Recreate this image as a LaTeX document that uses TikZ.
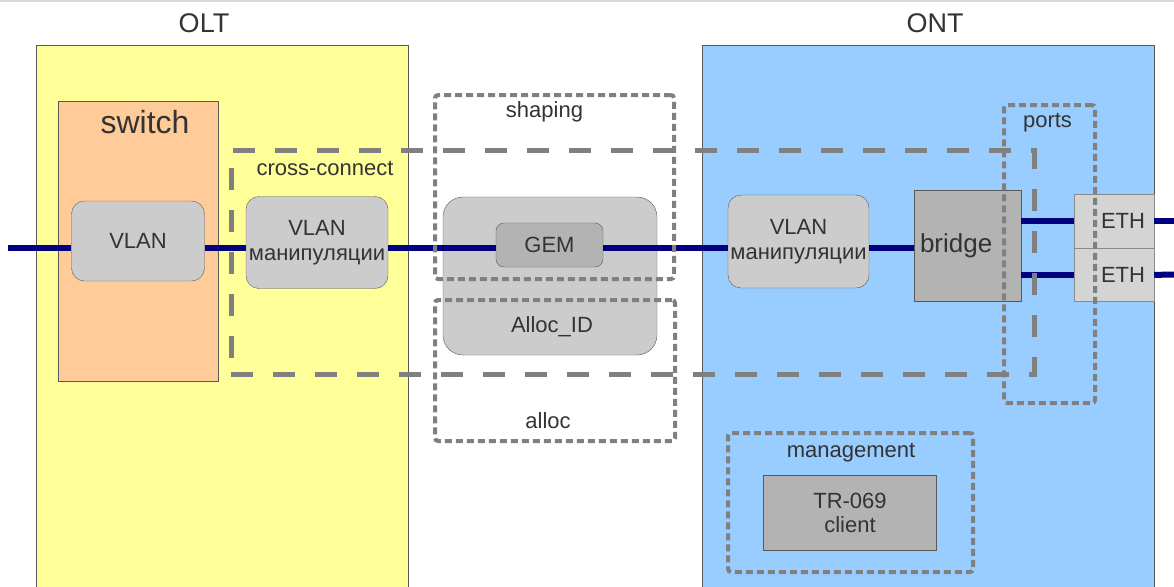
\documentclass[tikz,border=0pt]{standalone}
\usepackage{fontspec}
\setmainfont{Liberation Sans}
\usetikzlibrary{positioning}
\definecolor{oltyellow}{HTML}{FFFF99}
\definecolor{ontblue}{HTML}{99CCFF}
\definecolor{switchorange}{HTML}{FFCC99}
\definecolor{unitgray}{HTML}{CCCCCC}
\definecolor{blockgray}{HTML}{B3B3B3}
\definecolor{portgray}{HTML}{D4D4D4}
\definecolor{edgegray}{HTML}{595959}
\definecolor{txtgray}{HTML}{333333}
\definecolor{linkblue}{HTML}{000080}

\begin{document}
\begin{tikzpicture}[x=1pt, y=-1pt,
    every node/.style={text=txtgray, font=\fontsize{22}{25}\selectfont},
    unitbox/.style={draw=edgegray, fill=unitgray, rounded corners=13pt, align=center, inner sep=0pt},
    blockbox/.style={draw=edgegray, fill=blockgray, inner sep=0pt},
    portbox/.style={draw=edgegray!70, fill=portgray, inner sep=0pt, minimum width=80pt, minimum height=53.5pt, text width=62pt, align=right},
    areabox/.style={draw=black!50, line width=5pt, dash pattern=on 22pt off 20pt, inner sep=0pt},
    groupbox/.style={draw=black!50, line width=4pt, dash pattern=on 7pt off 4pt, rounded corners=3pt, inner sep=0pt},
    linkline/.style={draw=linkblue, line width=6pt},
    titletext/.style={anchor=base, inner sep=0pt}
]
  % page
  \useasboundingbox (0,0) rectangle (1174,586);
  \clip (0,0) rectangle (1174,586);
  \fill[white] (0,0) rectangle (1174,586);
  \draw[black!15, line width=2pt] (0,1) -- (1174,1);

  % OLT and ONT
  \node (olt) [draw=edgegray, fill=oltyellow, inner sep=0pt, minimum width=372pt, minimum height=560pt, anchor=north west] at (36,45) {};
  \node (olttitle) [titletext, font=\fontsize{27}{30}\selectfont] at (204,33) {OLT};
  \node (ont) [draw=edgegray, fill=ontblue, inner sep=0pt, minimum width=452pt, minimum height=560pt, anchor=north west] at (702,45) {};
  \node (onttitle) [titletext, font=\fontsize{27}{30}\selectfont] at (935,33) {ONT};

  % switch
  \node (switch) [draw=edgegray, fill=switchorange, inner sep=0pt, minimum width=160pt, minimum height=280pt, anchor=north west] at (58,101) {};
  \node (switchtitle) [titletext, font=\fontsize{32}{36}\selectfont] at (145,133) {switch};
  \node (vlan) [unitbox, minimum width=133pt, minimum height=80pt] at (138,241) {VLAN};
  \node (xvlan) [unitbox, minimum width=142pt, minimum height=92pt] at (317,242.5) {VLAN\\манипуляции};

  % GEM / Alloc_ID
  \node (allocid) [unitbox, rounded corners=20pt, minimum width=214pt, minimum height=158pt] at (550,276) {};
  \node (allocidtitle) [titletext] at (552,332) {Alloc\_ID};
  \node (gem) [blockbox, rounded corners=8pt, minimum width=107pt, minimum height=44pt] at (549.5,245) {GEM};

  % ONT side
  \node (ovlan) [unitbox, minimum width=141pt, minimum height=93pt] at (798.5,241.5) {VLAN\\манипуляции};
  \node (bridge) [blockbox, minimum height=111pt, text width=95pt, inner xsep=6pt, align=left, font=\fontsize{26}{30}\selectfont] at (967.5,245.5) {bridge};
  \node (eth1) [portbox] at (1114,221) {ETH};
  \node (eth2) [portbox, below=0pt of eth1] {ETH};
  \node (tr) [blockbox, minimum width=173pt, minimum height=75pt, align=center, font=\fontsize{22}{24}\selectfont] at (850,512.5) {TR-069\\client};

  % links
  \coordinate (in) at (8,248);
  \coordinate (out1) at (1174,221);
  \coordinate (out2) at (1174,274.5);
  \draw[linkline] (in) -- (in -| vlan.west);
  \draw[linkline] (vlan.east |- in) -- (xvlan.west |- in);
  \draw[linkline] (xvlan.east |- in) -- (gem.west |- in);
  \draw[linkline] (gem.east |- in) -- (ovlan.west |- in);
  \draw[linkline] (ovlan.east |- in) -- (bridge.west |- in);
  \draw[linkline] (bridge.east |- eth1) -- (eth1.west);
  \draw[linkline] (bridge.east |- eth2) -- (eth2.west);
  \draw[linkline] (eth1.east) -- (out1);
  \draw[linkline] (eth2.east) -- (out2);

  % dashed areas
  \node (xconnect) [areabox, minimum width=803pt, minimum height=224pt] at (632.5,262) {};
  \node (xconnecttitle) [titletext] at (325,175) {cross-connect};
  \node (shaping) [groupbox, minimum width=239pt, minimum height=184pt] at (554.5,187) {};
  \node (shapingtitle) [titletext] at (544.5,117) {shaping};
  \node (alloc) [groupbox, minimum width=240pt, minimum height=141pt] at (555,370.5) {};
  \node (alloctitle) [titletext] at (548,428) {alloc};
  \node (ports) [groupbox, minimum width=91pt, minimum height=298pt] at (1049.5,254) {};
  \node (portstitle) [titletext] at (1047.5,127) {ports};
  \node (mgmt) [groupbox, minimum width=245pt, minimum height=139pt] at (850.5,502.5) {};
  \node (mgmttitle) [titletext] at (851,457) {management};
\end{tikzpicture}
\end{document}
